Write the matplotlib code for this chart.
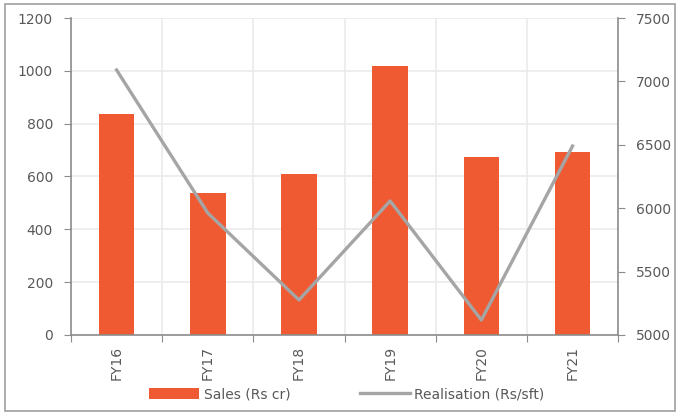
import numpy as np
import matplotlib.pyplot as plt
from matplotlib.patches import Rectangle

# sales and realisation by year
years = ['FY16', 'FY17', 'FY18', 'FY19', 'FY20', 'FY21']
sales = [837, 538, 610, 1019, 674, 693]
realisation = [7090, 5962, 5276, 6057, 5118, 6490]

bar_color = '#F05A32'
line_color = '#A5A5A5'
text_color = '#595959'
axis_color = '#8C8C8C'
grid_color = '#EBEBEB'

plt.rcParams['font.family'] = 'DejaVu Sans'
plt.rcParams['font.size'] = 10

fig = plt.figure(figsize=(6.8, 4.13), dpi=100)
fig.patches.append(Rectangle((0.008, 0.006), 0.984, 0.985, transform=fig.transFigure,
                             fill=False, edgecolor='#A0A0A0', linewidth=1.2))

ax = fig.add_axes([0.1044, 0.1889, 0.8046, 0.7675])
index = np.arange(len(years))

bars = ax.bar(index, sales, 0.39, color=bar_color, label='Sales (Rs cr)', zorder=2)
ax.set_ylim(0, 1200)
ax.set_yticks(range(0, 1201, 200))
ax.set_xlim(-0.5, len(years) - 0.5)

# ticks/grid on category boundaries, labels at centres
ax.set_xticks(np.arange(-0.5, len(years) + 0.5, 1.0))
ax.set_xticklabels([])
ax.set_xticks(index, minor=True)
ax.set_xticklabels(years, minor=True, rotation=90, color=text_color)
ax.tick_params(axis='x', which='minor', length=0, pad=8)
ax.tick_params(axis='x', which='major', length=5, color=axis_color, direction='out')
ax.tick_params(axis='y', length=5, color=axis_color, labelcolor=text_color, pad=8)
ax.grid(True, which='major', color=grid_color, linewidth=1.2, zorder=0)
ax.set_axisbelow(True)

for s in ['top', 'right']:
    ax.spines[s].set_visible(False)
for s in ['left', 'bottom']:
    ax.spines[s].set_color(axis_color)
    ax.spines[s].set_linewidth(1.2)

ax2 = ax.twinx()
line, = ax2.plot(index, realisation, color=line_color, linewidth=2.4,
                 label='Realisation (Rs/sft)', zorder=3)
ax2.set_ylim(5000, 7500)
ax2.set_yticks(range(5000, 7501, 500))
ax2.tick_params(axis='y', length=5, color=axis_color, labelcolor=text_color, pad=8)
for s in ['top', 'left', 'bottom']:
    ax2.spines[s].set_visible(False)
ax2.spines['right'].set_color(axis_color)
ax2.spines['right'].set_linewidth(1.2)

leg = fig.legend([bars, line], ['Sales (Rs cr)', 'Realisation (Rs/sft)'],
                 loc='center', bbox_to_anchor=(0.51, 0.045), ncol=2, frameon=False,
                 handlelength=3.6, handleheight=0.75, columnspacing=5.0,
                 handletextpad=0.3, fontsize=10)
for t in leg.get_texts():
    t.set_color(text_color)

fig.savefig('out.png', dpi=100)
